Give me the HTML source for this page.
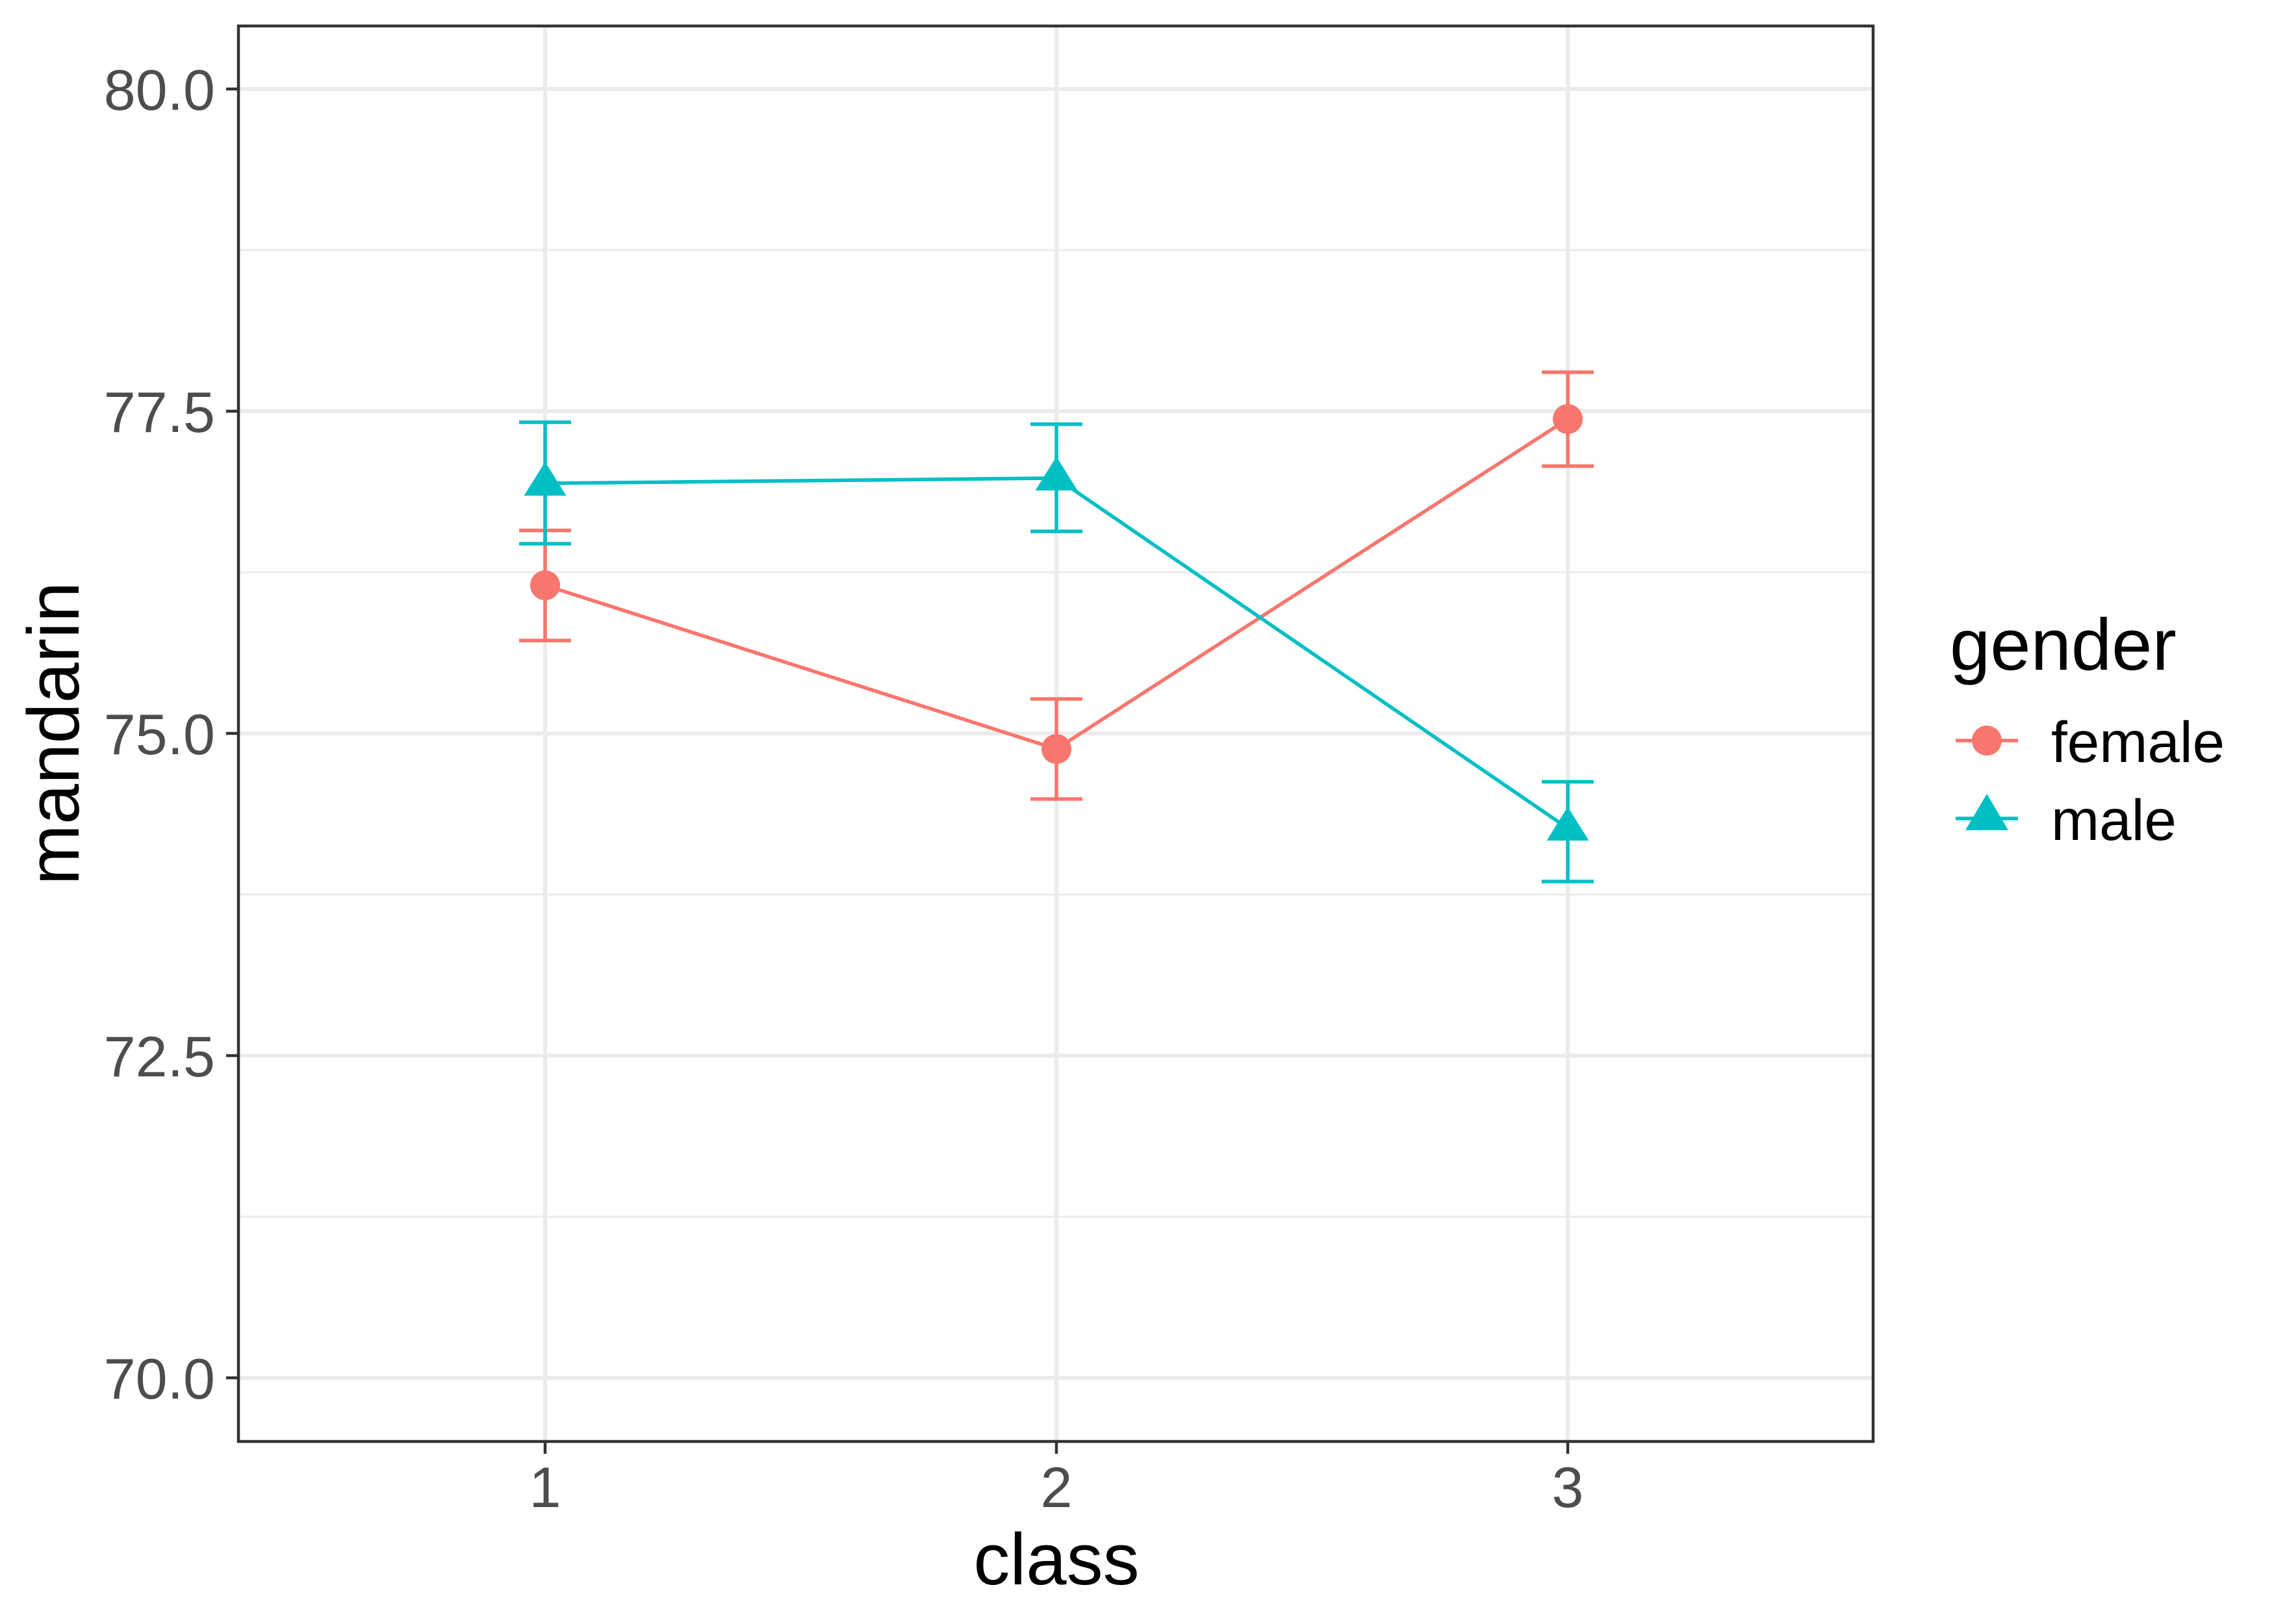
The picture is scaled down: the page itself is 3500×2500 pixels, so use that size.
<!DOCTYPE html>
<html><head><meta charset="utf-8"><style>html,body{margin:0;padding:0;background:#fff}svg{display:block}</style></head>
<body>
<svg width="3500" height="2500" viewBox="0 0 3500 2500" xmlns="http://www.w3.org/2000/svg" font-family="Liberation Sans, Arial, sans-serif">
<rect width="3500" height="2500" fill="#fff"/>
<g stroke="#ebebeb">
<g stroke-width="3">
<line x1="367" x2="2883" y1="385" y2="385"/>
<line x1="367" x2="2883" y1="881" y2="881"/>
<line x1="367" x2="2883" y1="1377" y2="1377"/>
<line x1="367" x2="2883" y1="1873" y2="1873"/>
</g>
<g stroke-width="6">
<line x1="367" x2="2883" y1="137" y2="137"/>
<line x1="367" x2="2883" y1="633" y2="633"/>
<line x1="367" x2="2883" y1="1129" y2="1129"/>
<line x1="367" x2="2883" y1="1625" y2="1625"/>
<line x1="367" x2="2883" y1="2121" y2="2121"/>
<line x1="839" x2="839" y1="40" y2="2219"/>
<line x1="1626" x2="1626" y1="40" y2="2219"/>
<line x1="2413" x2="2413" y1="40" y2="2219"/>
</g>
</g>
<g stroke="#F8766D" stroke-width="5.5" fill="none">
<polyline points="839,901 1626,1153 2413,645"/>
<line x1="839" x2="839" y1="816.5" y2="986"/><line x1="799" x2="879" y1="816.5" y2="816.5"/><line x1="799" x2="879" y1="986" y2="986"/>
<line x1="1626" x2="1626" y1="1076" y2="1230"/><line x1="1586" x2="1666" y1="1076" y2="1076"/><line x1="1586" x2="1666" y1="1230" y2="1230"/>
<line x1="2413" x2="2413" y1="573" y2="717.5"/><line x1="2373" x2="2453" y1="573" y2="573"/><line x1="2373" x2="2453" y1="717.5" y2="717.5"/>
</g>
<g fill="#F8766D">
<circle cx="839" cy="901" r="23"/><circle cx="1626" cy="1153" r="23"/><circle cx="2413" cy="645" r="23"/>
</g>
<g stroke="#00BFC4" stroke-width="5.5" fill="none">
<polyline points="839,744 1626,736 2413,1275"/>
<line x1="839" x2="839" y1="650" y2="837"/><line x1="799" x2="879" y1="650" y2="650"/><line x1="799" x2="879" y1="837" y2="837"/>
<line x1="1626" x2="1626" y1="653" y2="818"/><line x1="1586" x2="1666" y1="653" y2="653"/><line x1="1586" x2="1666" y1="818" y2="818"/>
<line x1="2413" x2="2413" y1="1203.5" y2="1357"/><line x1="2373" x2="2453" y1="1203.5" y2="1203.5"/><line x1="2373" x2="2453" y1="1357" y2="1357"/>
</g>
<g fill="#00BFC4">
<polygon points="839,711 871.5,763 806.5,763"/>
<polygon points="1626,703 1658.5,755 1593.5,755"/>
<polygon points="2413,1242 2445.5,1294 2380.5,1294"/>
</g>
<rect x="367" y="40" width="2516" height="2179" fill="none" stroke="#333" stroke-width="4.5"/>
<g stroke="#333" stroke-width="4.5">
<line x1="348" x2="367" y1="137" y2="137"/>
<line x1="348" x2="367" y1="633" y2="633"/>
<line x1="348" x2="367" y1="1129" y2="1129"/>
<line x1="348" x2="367" y1="1625" y2="1625"/>
<line x1="348" x2="367" y1="2121" y2="2121"/>
<line x1="839" x2="839" y1="2219" y2="2238"/>
<line x1="1626" x2="1626" y1="2219" y2="2238"/>
<line x1="2413" x2="2413" y1="2219" y2="2238"/>
</g>
<g fill="#4d4d4d" font-size="88" text-anchor="end">
<text x="331" y="169">80.0</text>
<text x="331" y="665">77.5</text>
<text x="331" y="1161">75.0</text>
<text x="331" y="1657">72.5</text>
<text x="331" y="2153">70.0</text>
</g>
<g fill="#4d4d4d" font-size="88" text-anchor="middle">
<text x="839" y="2320">1</text>
<text x="1626" y="2320">2</text>
<text x="2413" y="2320">3</text>
</g>
<text x="1626" y="2439" font-size="112" text-anchor="middle" fill="#000">class</text>
<text transform="translate(121,1129) rotate(-90)" font-size="112" text-anchor="middle" fill="#000">mandarin</text>
<text x="3001" y="1031" font-size="112" fill="#000">gender</text>
<line x1="3010" x2="3106" y1="1140" y2="1140" stroke="#F8766D" stroke-width="5.5"/>
<circle cx="3058" cy="1140" r="23" fill="#F8766D"/>
<line x1="3010" x2="3106" y1="1260" y2="1260" stroke="#00BFC4" stroke-width="5.5"/>
<polygon points="3058,1222 3091,1278 3025,1278" fill="#00BFC4"/>
<text x="3157" y="1173" font-size="89" fill="#000">female</text>
<text x="3157" y="1293" font-size="89" fill="#000">male</text>
</svg>
</body></html>
